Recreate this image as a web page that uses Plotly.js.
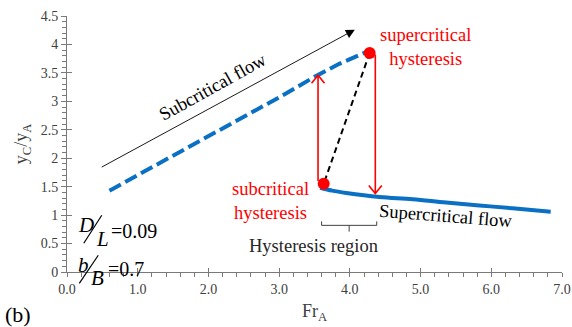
<!DOCTYPE html>
<html>
<head>
<meta charset="utf-8">
<script src="https://cdn.plot.ly/plotly-3.0.1.min.js"></script>
<style>html,body{margin:0;padding:0;background:#fff;}#chart{width:572px;height:327px;}</style>
</head>
<body>
<div id="chart"></div>
<script>
// Subcritical branch (dashed) and supercritical branch (solid)
const subFr = [0.6, 1.0, 1.5, 2.0, 2.5, 3.0, 3.5, 3.85, 4.24];
const subY  = [1.43, 1.70, 2.04, 2.38, 2.72, 3.07, 3.43, 3.66, 3.87];
const supFr = [3.58, 3.75, 3.95, 4.42, 4.89, 5.36, 5.83, 6.30, 6.84];
const supY  = [1.48, 1.43, 1.39, 1.32, 1.28, 1.22, 1.17, 1.12, 1.06];

// Hysteresis jump points
const jumpFr = [3.63, 4.28];
const jumpY  = [1.55, 3.85];

// Vertical transitions: [Fr, from y, to y]
const upJump   = [3.55, 1.60, 3.46];
const downJump = [4.36, 3.82, 1.38];

// Flow-direction arrow
const flowArrow = {fr: [0.47, 4.07], y: [1.83, 4.26]};

// Hysteresis region bracket
const bracketFr = [3.6, 4.38];
const bracketY  = [0.89, 0.82, 0.71];

// Axis ticks
const frTicks = [0, 1, 2, 3, 4, 5, 6, 7];
const yTicks  = [0, 0.5, 1, 1.5, 2, 2.5, 3, 3.5, 4, 4.5];
const frRange = [0, 7];
const yRange  = [0, 4.5];

// minor tick positions between the major ones (rounded so none lands on a major)
const between = (lo, hi, step, majors) => {
  const out = [];
  for (let i = 0; lo + i * step <= hi + 1e-9; i++) {
    const v = Math.round((lo + i * step) * 1000) / 1000;
    if (!majors.some(m => Math.abs(m - v) < 1e-6)) out.push(v);
  }
  return out;
};
const frMinor = between(0, 7, 0.2, frTicks);
const yMinor  = between(0, 4.5, 0.1, yTicks);

const serif = "'Liberation Serif', 'Times New Roman', serif";
const axisGray = '#7a7a7a';
const textGray = '#404040';

const traces = [
  {x: subFr, y: subY, type: 'scatter', mode: 'lines',
   line: {color: '#0a70c4', width: 4, dash: '13px,5px'}, hoverinfo: 'skip'},
  {x: supFr, y: supY, type: 'scatter', mode: 'lines',
   line: {color: '#0a70c4', width: 4, shape: 'spline'}, hoverinfo: 'skip'},
  {x: [jumpFr[1], jumpFr[0]], y: [jumpY[1], jumpY[0]], type: 'scatter', mode: 'lines',
   line: {color: '#000', width: 2, dash: '6px,4px'}, hoverinfo: 'skip'},
  {x: jumpFr, y: jumpY, type: 'scatter', mode: 'markers',
   marker: {color: '#ff0000', size: 12}, hoverinfo: 'skip'},
  {x: [upJump[0], upJump[0]], y: [upJump[1], upJump[2]], type: 'scatter', mode: 'lines',
   line: {color: '#ff0000', width: 1.6}, hoverinfo: 'skip'},
  {x: [downJump[0], downJump[0]], y: [downJump[1], downJump[2]], type: 'scatter', mode: 'lines',
   line: {color: '#ff0000', width: 1.6}, hoverinfo: 'skip'},
  // carrier for the inner half of the crossing major ticks
  {x: [], y: [], xaxis: 'x2', yaxis: 'y2', type: 'scatter', hoverinfo: 'skip'}
];

const W = 572, H = 327, mL = 66.7, mR = 10, mT = 16, mB = 55.3;
const px = v => (v - mL) / (W - mL - mR);
const py = v => (H - mB - v) / (H - mT - mB);

const shapes = [
  // arrow heads on the transitions (open chevrons, sized in pixels)
  {type: 'path', xref: 'x', yref: 'y', xsizemode: 'pixel', ysizemode: 'pixel',
   xanchor: upJump[0], yanchor: upJump[2], path: 'M -6.5 -8 L 0 0 L 6.5 -8',
   line: {color: '#ff0000', width: 1.6}},
  {type: 'path', xref: 'x', yref: 'y', xsizemode: 'pixel', ysizemode: 'pixel',
   xanchor: downJump[0], yanchor: downJump[2], path: 'M -6.5 8 L 0 0 L 6.5 8',
   line: {color: '#ff0000', width: 1.6}},
  // bracket under the hysteresis region
  {type: 'path', xref: 'x', yref: 'y',
   path: `M ${bracketFr[0]} ${bracketY[0]} L ${bracketFr[0]} ${bracketY[1]} L ${bracketFr[1]} ${bracketY[1]} L ${bracketFr[1]} ${bracketY[0]}`,
   line: {color: '#404040', width: 1}},
  {type: 'line', xref: 'x', yref: 'y',
   x0: (bracketFr[0] + bracketFr[1]) / 2, x1: (bracketFr[0] + bracketFr[1]) / 2,
   y0: bracketY[1], y1: bracketY[2], line: {color: '#404040', width: 1}},
  // fraction slashes for D/L and b/B
  {type: 'line', xref: 'paper', yref: 'paper', x0: px(83.5), y0: py(243), x1: px(101.5), y1: py(215),
   line: {color: '#000', width: 1.2}},
  {type: 'line', xref: 'paper', yref: 'paper', x0: px(79), y0: py(283), x1: px(98), y1: py(255),
   line: {color: '#000', width: 1.2}}
];

const ann = (x, y, text, extra) => Object.assign({
  x: x, y: y, xref: 'x', yref: 'y', text: text, showarrow: false,
  xanchor: 'center', yanchor: 'middle',
  font: {family: serif, size: 18.5, color: '#000'}
}, extra || {});

const pann = (x, y, text, size, extra) => Object.assign({
  xref: 'paper', yref: 'paper', x: px(x), y: py(y), text: text, showarrow: false,
  xanchor: 'center', yanchor: 'middle',
  font: {family: serif, size: size, color: '#000'}
}, extra || {});

const annotations = [
  {x: flowArrow.fr[1], y: flowArrow.y[1], ax: flowArrow.fr[0], ay: flowArrow.y[0],
   xref: 'x', yref: 'y', axref: 'x', ayref: 'y', text: '', showarrow: true,
   arrowhead: 2, arrowsize: 2, arrowwidth: 0.9, arrowcolor: '#000'},
  ann(2.06, 3.26, 'Subcritical flow', {textangle: -29}),
  ann(5.07, 3.95, 'supercritical<br>hysteresis', {font: {family: serif, size: 18.5, color: '#ff0000'}}),
  ann(2.88, 1.24, 'subcritical<br>hysteresis', {font: {family: serif, size: 18.5, color: '#ff0000'}}),
  ann(5.36, 0.99, 'Supercritical flow', {textangle: 4.5}),
  ann(3.49, 0.45, 'Hysteresis region', {font: {family: serif, size: 18.5, color: '#262626'}}),
  // D/L = 0.09
  pann(86, 225, '<i>D</i>', 21),
  pann(102.5, 238.5, '<i>L</i>', 21),
  pann(109, 231, '=0.09', 20, {xanchor: 'left'}),
  // b/B = 0.7
  pann(83, 265, '<i>b</i>', 21),
  pann(97, 277.5, '<i>B</i>', 21),
  pann(106, 268.5, '=0.7', 20, {xanchor: 'left'}),
  // panel label
  pann(3, 314, '(b)', 22, {xanchor: 'left'})
];

const baseAxis = {
  showgrid: false, zeroline: false, showline: true, linecolor: axisGray, linewidth: 1,
  tickcolor: axisGray, tickfont: {family: serif, size: 14, color: textGray}, fixedrange: true,
  ticklabeloverflow: 'allow'
};

const layout = {
  width: W, height: H,
  margin: {l: mL, r: mR, t: mT, b: mB, pad: 0},
  paper_bgcolor: '#fff', plot_bgcolor: '#fff',
  showlegend: false,
  font: {family: serif},
  xaxis: Object.assign({}, baseAxis, {
    range: frRange, tickmode: 'array', tickvals: frTicks, tickformat: '.1f',
    ticks: 'outside', ticklen: 4,
    minor: {tickmode: 'array', tickvals: frMinor, ticks: 'outside', ticklen: 4, tickcolor: axisGray},
    title: {text: 'Fr<sub>A</sub>', font: {family: serif, size: 18, color: textGray}, standoff: 8}
  }),
  yaxis: Object.assign({}, baseAxis, {
    range: yRange, tickmode: 'array', tickvals: yTicks, ticks: 'outside', ticklen: 5,
    minor: {tickmode: 'array', tickvals: yMinor, ticks: 'outside', ticklen: 4, tickcolor: axisGray},
    title: {text: 'y<sub>C</sub>/y<sub>A</sub>', font: {family: serif, size: 18, color: textGray}, standoff: 8}
  }),
  xaxis2: {range: frRange, overlaying: 'x', anchor: 'y2', showgrid: false, zeroline: false,
    showline: false, tickmode: 'array', tickvals: frTicks, ticks: 'inside', ticklen: 4,
    tickcolor: axisGray, showticklabels: false, side: 'bottom', fixedrange: true},
  yaxis2: {range: yRange, overlaying: 'y', anchor: 'x2', showgrid: false, zeroline: false,
    showline: false, tickmode: 'array', tickvals: yTicks, ticks: 'inside', ticklen: 5,
    tickcolor: axisGray, showticklabels: false, side: 'left', fixedrange: true},
  shapes: shapes,
  annotations: annotations
};

Plotly.newPlot('chart', traces, layout, {displayModeBar: false, staticPlot: true});
</script>
</body>
</html>
